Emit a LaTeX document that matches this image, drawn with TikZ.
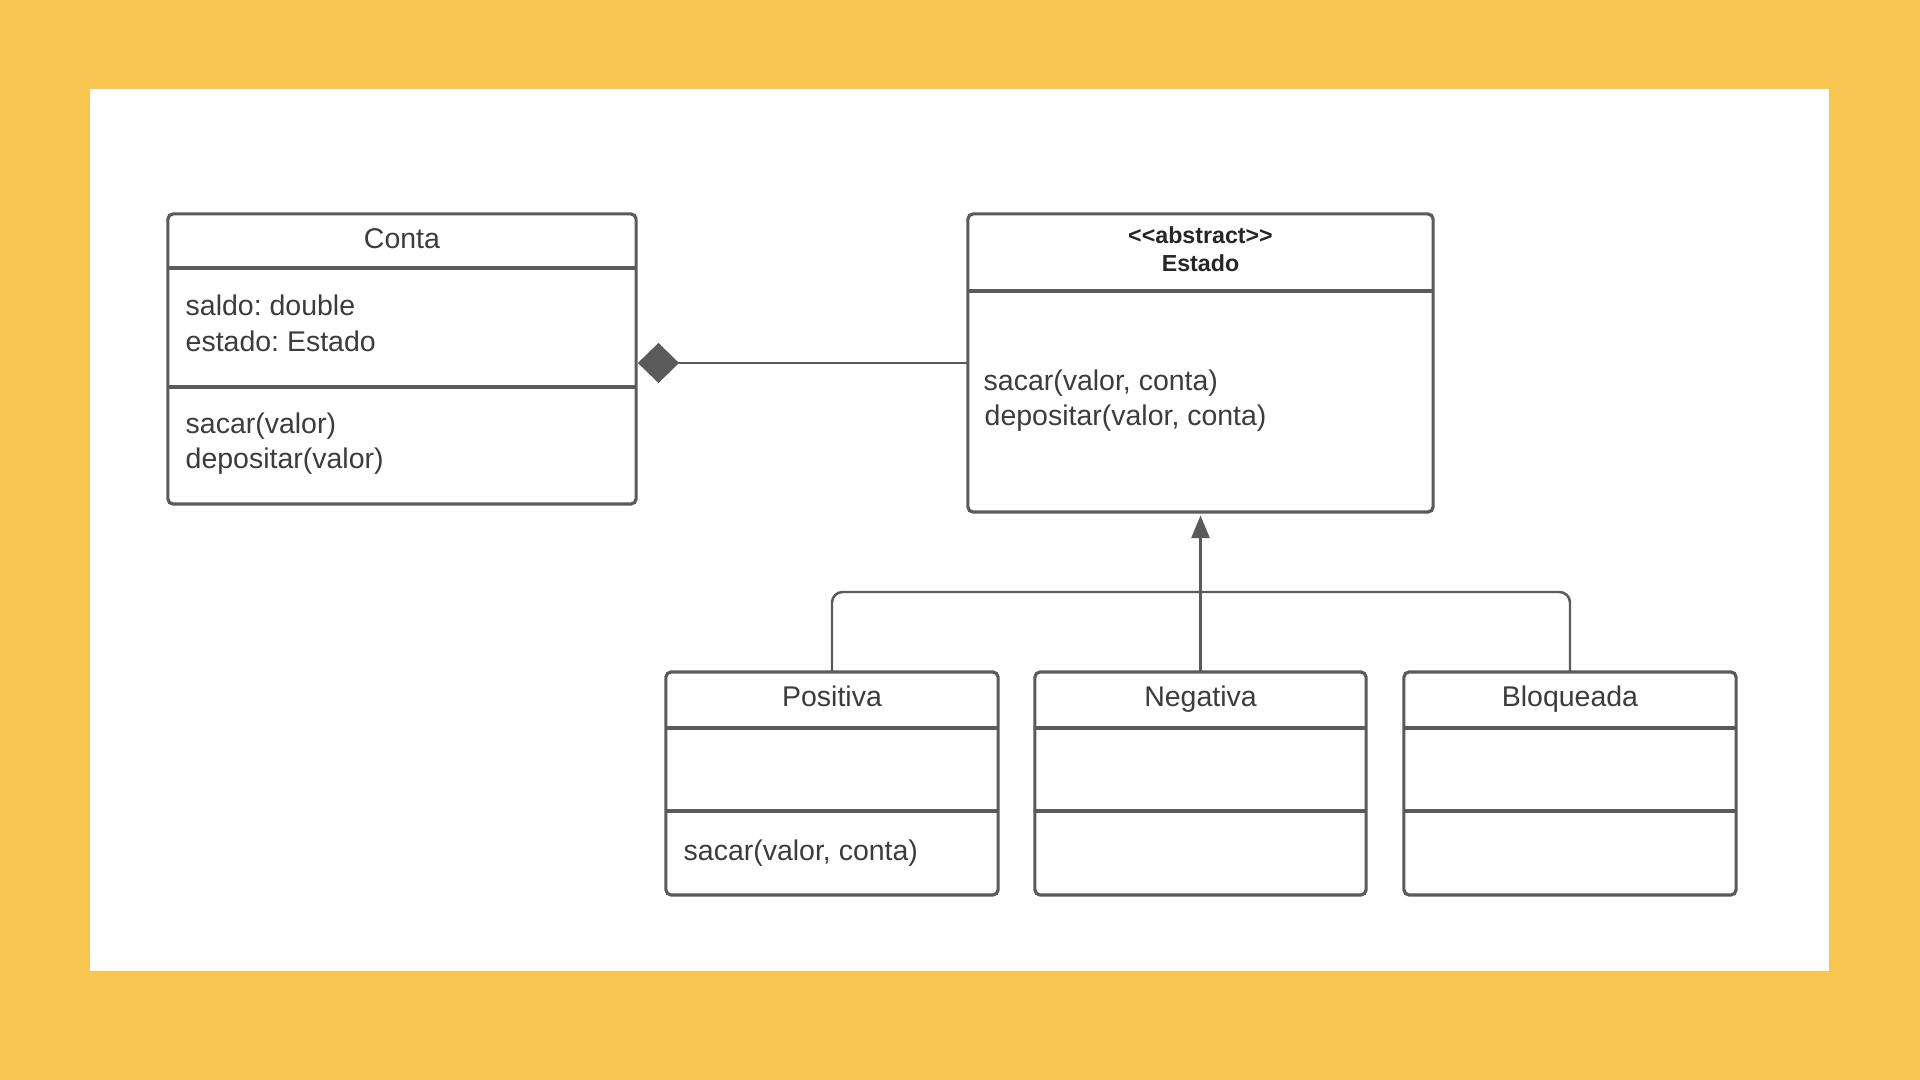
\documentclass[tikz,border=0pt]{standalone}
\usepackage{fontspec}
\setmainfont{Liberation Sans}
\usetikzlibrary{arrows.meta}
\definecolor{bgorange}{HTML}{F9C551}
\definecolor{linec}{HTML}{5A5A5A}
\definecolor{txtc}{HTML}{3C3C3C}
\frenchspacing
\tikzset{
  umlbox/.style={draw=linec, line width=0.9pt, rounded corners=1.5pt, fill=white, inner sep=0pt, outer sep=0pt},
  div/.style={draw=linec, line width=0.9pt},
  conn/.style={draw=linec, line width=0.7pt},
  txt/.style={text=txtc, inner sep=0pt, text height=1.55ex, text depth=0.45ex, font=\fontsize{8.1}{9.8}\selectfont},
  btxt/.style={text=black!85, inner sep=0pt, text height=1.55ex, text depth=0.45ex, font=\fontsize{6.6}{8}\selectfont\bfseries},
}
\begin{document}
\begin{tikzpicture}[x=0.01cm,y=-0.01cm]
\fill[bgorange] (0,0) rectangle (1920,1080);
\fill[white] (90,89) rectangle (1829,971);
\useasboundingbox (0,0) rectangle (1920,1080);

% Conta
\node[umlbox, minimum width=4.68cm, minimum height=2.90cm] (conta) at (402,359) {};
\draw[div] (conta.west |- 0,268) -- (conta.east |- 0,268);
\draw[div] (conta.west |- 0,387) -- (conta.east |- 0,387);
\node[txt] (contaT) at (402,238) {Conta};
\node[txt, anchor=west] (contaA1) at (185,305) {saldo: double};
\node[txt, anchor=west] (contaA2) at (185,341) {estado: Estado};
\node[txt, anchor=west] (contaM1) at (185,423) {sacar(valor)};
\node[txt, anchor=west] (contaM2) at (185,458) {depositar(valor)};

% Estado
\node[umlbox, minimum width=4.65cm, minimum height=2.98cm] (estado) at (1200.5,363) {};
\draw[div] (estado.west |- 0,291) -- (estado.east |- 0,291);
\node[btxt] (estadoS) at (1200.5,233) {<{}<abstract>{}>};
\node[btxt] (estadoT) at (1200.5,261) {Estado};
\node[txt, anchor=west] (estadoM1) at (983,380) {sacar(valor, conta)};
\node[txt, anchor=west] (estadoM2) at (984,415) {depositar(valor, conta)};

% Subclasses
\node[umlbox, minimum width=3.32cm, minimum height=2.23cm] (positiva) at (832,783.5) {};
\node[umlbox, minimum width=3.31cm, minimum height=2.23cm] (negativa) at (1200.5,783.5) {};
\node[umlbox, minimum width=3.32cm, minimum height=2.23cm] (bloqueada) at (1570,783.5) {};
\foreach \b in {positiva,negativa,bloqueada}{
  \draw[div] (\b.west |- 0,728) -- (\b.east |- 0,728);
  \draw[div] (\b.west |- 0,811) -- (\b.east |- 0,811);
}
\node[txt] (posT) at (832,696) {Positiva};
\node[txt] (negT) at (1200.5,696) {Negativa};
\node[txt] (bloT) at (1570,696) {Bloqueada};
\node[txt, anchor=west] (posM1) at (683,850) {sacar(valor, conta)};

% Composition
\draw[conn, line width=0.8pt, {Diamond[length=11.7pt,width=11.4pt,fill=linec]}-, shorten <=0.5pt] (conta.east |- estado.west) -- (estado.west);

% Generalization
\coordinate (jn) at (estado.south |- 0,592);
\draw[conn, rounded corners=3pt] (positiva.north) |- (jn) -| (bloqueada.north);
\draw[conn] (negativa.north) -- (jn);
\draw[conn, line width=1.1pt, -{Triangle[length=6.5pt,width=5pt]}, shorten >=0.9pt] (jn) -- (estado.south);
\end{tikzpicture}
\end{document}
